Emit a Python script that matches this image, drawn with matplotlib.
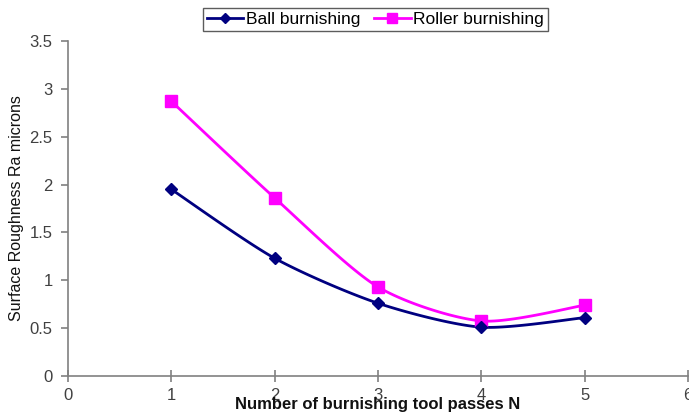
import numpy as np
import matplotlib
matplotlib.use("Agg")
import matplotlib.pyplot as plt

passes = [1, 2, 3, 4, 5]
ball = [1.95, 1.23, 0.76, 0.51, 0.61]
roller = [2.87, 1.86, 0.93, 0.575, 0.74]
xticks = [0, 1, 2, 3, 4, 5, 6]
yticks = [0, 0.5, 1, 1.5, 2, 2.5, 3, 3.5]

plt.rcParams['font.family'] = ['Liberation Sans', 'DejaVu Sans']

def smooth_xy(x, y, n=30, t=0.13):
    # Excel-like smoothed line via Catmull-Rom Bezier segments
    x = np.asarray(x, float); y = np.asarray(y, float)
    px, py = [], []
    for i in range(len(x) - 1):
        x0, y0 = (x[i-1], y[i-1]) if i > 0 else (x[i], y[i])
        x3, y3 = (x[i+2], y[i+2]) if i + 2 < len(x) else (x[i+1], y[i+1])
        c1 = (x[i] + (x[i+1] - x0) * t, y[i] + (y[i+1] - y0) * t)
        c2 = (x[i+1] - (x3 - x[i]) * t, y[i+1] - (y3 - y[i]) * t)
        s = np.linspace(0, 1, n)
        bx = (1-s)**3*x[i] + 3*(1-s)**2*s*c1[0] + 3*(1-s)*s**2*c2[0] + s**3*x[i+1]
        by = (1-s)**3*y[i] + 3*(1-s)**2*s*c1[1] + 3*(1-s)*s**2*c2[1] + s**3*y[i+1]
        px.extend(bx); py.extend(by)
    return px, py

fig = plt.figure(figsize=(6.89, 4.18), dpi=100)
ax = fig.add_axes([0.0987, 0.1005, 0.9, 0.8014])

bx, by = smooth_xy(passes, ball)
rx, ry = smooth_xy(passes, roller)
ax.plot(rx, ry, color='#FF00FF', lw=2, zorder=2)
ax.plot(bx, by, color='#000080', lw=2, zorder=3)
ax.plot(passes, roller, ls='none', marker='s', ms=9, color='#FF00FF', zorder=4)
ax.plot(passes, ball, ls='none', marker='D', ms=6, color='#000080', zorder=5)
hb, = ax.plot([], [], color='#000080', lw=2, marker='D', ms=5)
hr, = ax.plot([], [], color='#FF00FF', lw=2, marker='s', ms=7)

ax.set_xlim(0, 6)
ax.set_ylim(0, 3.5)
ax.set_xticks(xticks)
ax.set_yticks(yticks)
ax.set_xticklabels([str(v) for v in xticks])
ax.set_yticklabels(['0', '0.5', '1', '1.5', '2', '2.5', '3', '3.5'])
for s in ['top', 'right']:
    ax.spines[s].set_visible(False)
for s in ['left', 'bottom']:
    ax.spines[s].set_color('#808080')
    ax.spines[s].set_linewidth(1.2)
ax.tick_params(axis='both', colors='#808080', labelcolor='#404040', labelsize=12, length=5, width=1.2)
ax.tick_params(axis='x', direction='inout', length=8, pad=5)
ax.tick_params(axis='y', direction='out', pad=6)

ax.set_xlabel('Number of burnishing tool passes N', fontsize=12, fontweight='bold', color='#111111', labelpad=-5)
ax.set_ylabel('Surface Roughness Ra microns', fontsize=11.5, color='#111111', labelpad=4)

leg = fig.legend([hb, hr], ['Ball burnishing', 'Roller burnishing'], loc='upper center',
                 bbox_to_anchor=(0.545, 0.982), ncol=2, frameon=True, fancybox=False,
                 fontsize=12.5, handlelength=2.1, handletextpad=0.15, columnspacing=0.8,
                 borderpad=0.25, borderaxespad=0)
leg.get_frame().set_edgecolor('#333333')
leg.get_frame().set_linewidth(1)

fig.savefig('out.png', dpi=100)
